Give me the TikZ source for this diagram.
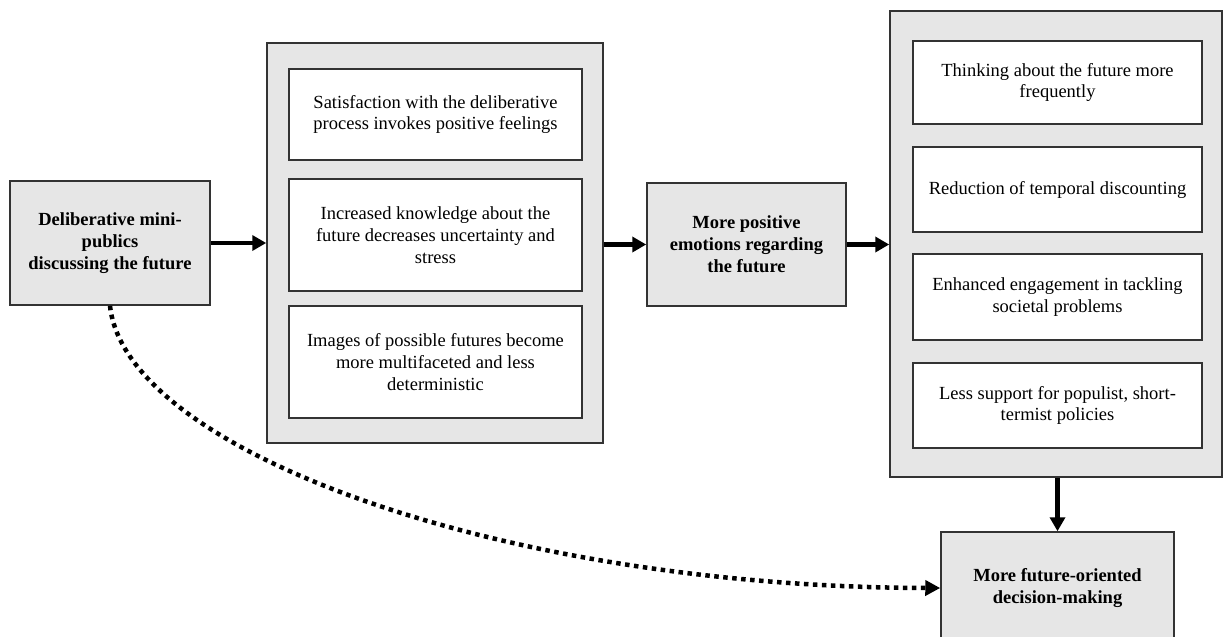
\documentclass[tikz,border=0pt]{standalone}
\usepackage{fontspec}
\setmainfont{Liberation Serif}
\usetikzlibrary{arrows.meta}
\definecolor{boxgray}{HTML}{E6E6E6}
\definecolor{edgegray}{HTML}{333333}
\tikzset{
  graybox/.style={draw=edgegray, fill=boxgray, line width=1.5pt, inner sep=0pt},
  whitebox/.style={draw=edgegray, fill=white, line width=1.5pt, inner sep=0pt, align=center, font=\fontsize{18.5}{21.7}\selectfont},
  boldbox/.style={graybox, align=center, font=\fontsize{18.5}{22}\selectfont\bfseries},
  flow/.style={line width=4.2pt, -{Triangle[length=14pt,width=15pt]}},
  dotflow/.style={line width=4.5pt, dash pattern=on 4.5pt off 4.5pt, -{Triangle[length=15pt,width=15pt]}},
}
\begin{document}
\begin{tikzpicture}[x=1pt,y=-1pt]
\useasboundingbox (0,0) rectangle (1224,637);
\clip (0,0) rectangle (1224,637);
% left node
\node[boldbox, minimum width=200pt, minimum height=124pt] (L) at (110,243) {Deliberative mini-\\publics\\discussing the future};
% middle group
\node[graybox, minimum width=336pt, minimum height=400pt] (M) at (435,243) {};
\node[whitebox, minimum width=293pt, minimum height=91pt] (M1) at (435.5,114.5) {Satisfaction with the deliberative\\process invokes positive feelings};
\node[whitebox, minimum width=293pt, minimum height=112pt] (M2) at (435.5,235) {Increased knowledge about the\\future decreases uncertainty and\\stress};
\node[whitebox, minimum width=293pt, minimum height=112pt] (M3) at (435.5,362) {Images of possible futures become\\more multifaceted and less\\deterministic};
% centre node
\node[boldbox, minimum width=199pt, minimum height=123pt] (C) at (746.5,244.5) {More positive\\emotions regarding\\the future};
% right group
\node[graybox, minimum width=332pt, minimum height=466pt] (R) at (1056,244) {};
\node[whitebox, minimum width=289pt, minimum height=83pt] (R1) at (1057.5,82.5) {Thinking about the future more\\frequently};
\node[whitebox, minimum width=289pt, minimum height=85pt] (R2) at (1057.5,189.5) {Reduction of temporal discounting};
\node[whitebox, minimum width=289pt, minimum height=86pt] (R3) at (1057.5,297) {Enhanced engagement in tackling\\societal problems};
\node[whitebox, minimum width=289pt, minimum height=85pt] (R4) at (1057.5,405.5) {Less support for populist, short-\\termist policies};
% bottom node
\node[boldbox, minimum width=233pt, minimum height=112pt] (B) at (1057.5,588) {More future-oriented\\decision-making};
% connectors
\draw[flow] (L.east) -- (L.east -| M.west);
\draw[flow] (M.east |- C.west) -- (C.west);
\draw[flow] (C.east) -- (C.east -| R.west);
\draw[flow] (R.south -| B.north) -- (B.north);
\draw[dotflow] (L.south) .. controls (125,450) and (500,587) .. (B.west);
\end{tikzpicture}
\end{document}
